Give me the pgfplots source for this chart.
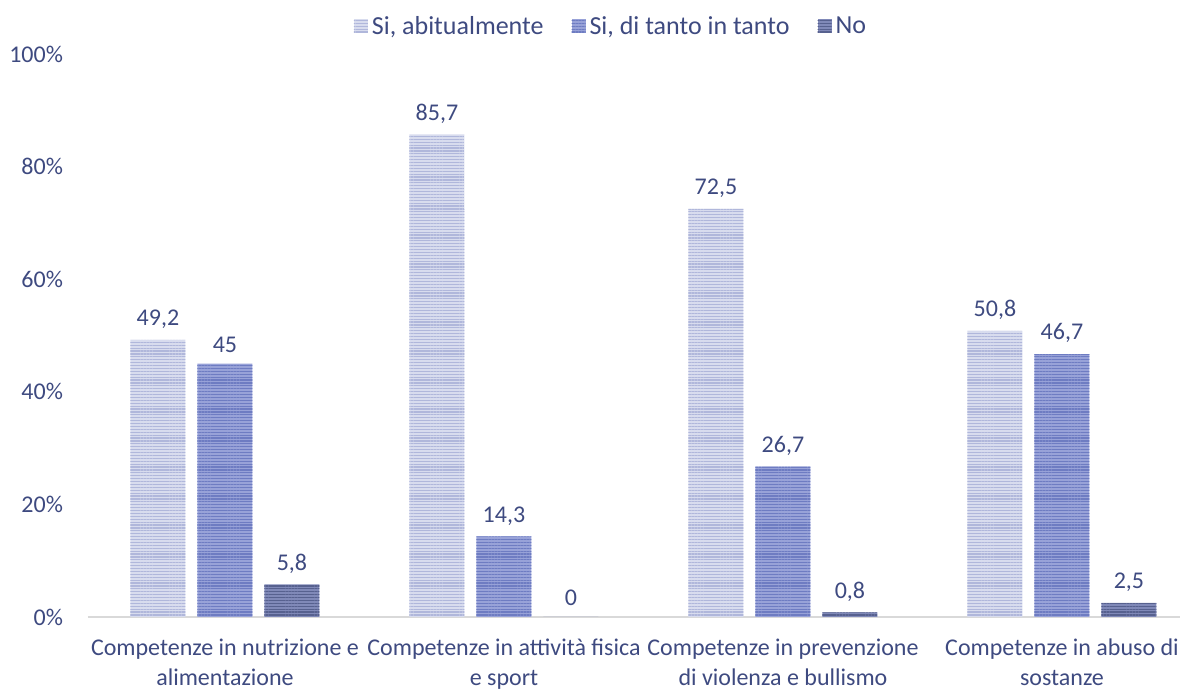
\documentclass[border=0pt]{standalone}
\usepackage{fontspec}
\setmainfont{Carlito}
\usepackage{pgfplots}
\pgfplotsset{compat=1.18}
\usetikzlibrary{patterns.meta, calc}
\definecolor{textcol}{HTML}{3E4A80}
\definecolor{cA}{HTML}{D8DCEE}
\definecolor{cAd}{HTML}{B0B7DB}
\definecolor{cB}{HTML}{98A2D8}
\definecolor{cBd}{HTML}{6E7CC2}
\definecolor{cC}{HTML}{8089B8}
\definecolor{cCd}{HTML}{57618F}
\definecolor{axline}{HTML}{D9D9D9}
\newcommand{\lblfont}{\fontsize{12}{15}\selectfont}

\begin{document}
\begin{tikzpicture}
\begin{axis}[
  name=ax,
  scale only axis,
  width=546pt, height=281.5pt,
  ybar=6pt, bar width=27.5pt,
  ymin=0, ymax=100,
  xmin=-0.491, xmax=3.423,
  ytick={0,20,40,60,80,100},
  yticklabel={\pgfmathprintnumber{\tick}\%},
  xtick={0,1,2,3},
  xticklabels={Competenze in nutrizione e\\alimentazione,
                Competenze in attività fisica\\e sport,
                Competenze in prevenzione\\di violenza e bullismo,
                Competenze in abuso di\\sostanze},
  x tick label style={align=center, font=\lblfont, text=textcol, yshift=-7.5pt},
  y tick label style={font=\lblfont, text=textcol, xshift=-9pt},
  /pgf/number format/assume math mode=true,
  major tick length=0pt,
  axis x line*=bottom, axis y line*=left,
  y axis line style={draw=none},
  x axis line style={draw=axline, line width=1pt, -},
  nodes near coords,
  /pgf/number format/.cd, use comma, 1000 sep={},
  /pgfplots/.cd,
  every node near coord/.append style={font=\lblfont, text=textcol, yshift=2pt},
  area legend,
  legend style={at={(0.5,1)}, anchor=south, yshift=4pt, xshift=-11pt, legend columns=3, draw=none, fill=none,
                font=\fontsize{13}{15}\selectfont, text=textcol,
                /tikz/every even column/.append style={column sep=12pt}},
  legend image code/.code={\path[#1] (0pt,-3.2pt) rectangle (7pt,3.8pt);},
]
\addplot[fill=cA, draw=none, postaction={pattern={Lines[angle=0,distance=1.45pt,line width=0.6pt]}, pattern color=cAd}]
  coordinates {(0,49.2) (1,85.7) (2,72.5) (3,50.8)};
\addplot[fill=cB, draw=none, postaction={pattern={Lines[angle=0,distance=1.45pt,line width=0.6pt]}, pattern color=cBd}]
  coordinates {(0,45) (1,14.3) (2,26.7) (3,46.7)};
\addplot[fill=cC, draw=none, postaction={pattern={Lines[angle=0,distance=1.45pt,line width=0.6pt]}, pattern color=cCd}]
  coordinates {(0,5.8) (1,0) (2,0.8) (3,2.5)};
\legend{{Si, abitualmente}, {Si, di tanto in tanto}, No}
\end{axis}
\path ($(ax.south west)+(-44pt,-36pt)$) rectangle ($(ax.north east)+(7.5pt,27pt)$);
\end{tikzpicture}
\end{document}
